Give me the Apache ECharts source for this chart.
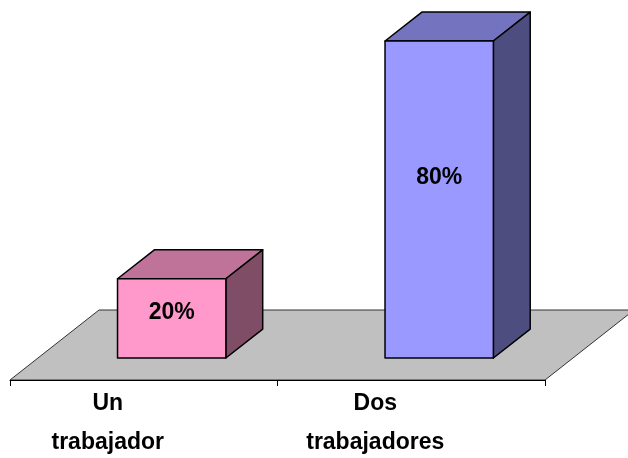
<!DOCTYPE html>
<html>
<head>
<meta charset="utf-8">
<script src="https://cdn.jsdelivr.net/npm/echarts@6/dist/echarts.min.js"></script>
<style>
html,body{margin:0;padding:0;background:#fff;}
#chart{width:628px;height:458px;}
</style>
</head>
<body>
<div id="chart"></div>
<script>
const categories = ['Un trabajador', 'Dos trabajadores'];
const values = [20, 80];
const frontColors = ['#FF99CC', '#9999FF'];
const topColors = ['#C07399', '#7373BF'];
const sideColors = ['#804D66', '#4D4D80'];

const DEPTH = [89, -70];      // floor depth projection vector (px)
const BAR_START = 0.314;      // bar front plane as fraction of floor depth
const BAR_END = 0.728;        // bar back plane
const BAR_W = 0.405;          // bar width as fraction of band

const chart = echarts.init(document.getElementById('chart'), null, {renderer: 'canvas'});

function floorItem(params, api) {
  const cs = params.coordSys;
  const x0 = cs.x, x1 = cs.x + cs.width, y = cs.y + cs.height;
  return {
    type: 'polygon',
    shape: {points: [[x0, y], [x1, y], [x1 + DEPTH[0], y + DEPTH[1]], [x0 + DEPTH[0], y + DEPTH[1]]]},
    style: {fill: '#C0C0C0', stroke: '#333', lineWidth: 1}
  };
}

function barItem(params, api) {
  const i = api.value(0);
  const v = api.value(1);
  const base = api.coord([i, 0]);
  const top = api.coord([i, v]);
  const bw = api.size([1, 0])[0] * BAR_W;
  const sx = DEPTH[0] * BAR_START, sy = DEPTH[1] * BAR_START;
  const dx = DEPTH[0] * (BAR_END - BAR_START), dy = DEPTH[1] * (BAR_END - BAR_START);
  const L = base[0] - bw / 2 + sx, R = base[0] + bw / 2 + sx;
  const B = base[1] + sy, T = top[1] + sy;
  const stroke = {stroke: '#000', lineWidth: 1.5, lineJoin: 'round'};
  const idx = params.dataIndex;
  const labelY = B + (T - B) * 0.57;
  return {
    type: 'group',
    children: [
      {type: 'polygon', shape: {points: [[L, T], [R, T], [R + dx, T + dy], [L + dx, T + dy]]},
        style: Object.assign({fill: topColors[idx]}, stroke)},
      {type: 'polygon', shape: {points: [[R, T], [R + dx, T + dy], [R + dx, B + dy], [R, B]]},
        style: Object.assign({fill: sideColors[idx]}, stroke)},
      {type: 'rect', shape: {x: L, y: T, width: R - L, height: B - T},
        style: Object.assign({fill: frontColors[idx]}, stroke)},
      {type: 'text', x: (L + R) / 2, y: labelY,
        style: {text: v + '%', fill: '#000', fontSize: 23, fontWeight: 'bold',
          fontFamily: 'Liberation Sans, Arial, sans-serif', align: 'center', verticalAlign: 'middle'}}
    ]
  };
}

chart.setOption({
  animation: false,
  backgroundColor: '#fff',
  grid: {left: 10, right: 83, top: 63, bottom: 78, containLabel: false, outerBoundsMode: 'none'},
  xAxis: {
    type: 'category',
    data: categories,
    boundaryGap: true,
    axisLine: {show: true, lineStyle: {color: '#000', width: 1}},
    axisTick: {show: true, length: 6, lineStyle: {color: '#000', width: 1}},
    splitLine: {show: false},
    axisLabel: {
      formatter: function (s) { return s.split(' ').join('\n'); },
      fontSize: 23, fontWeight: 'bold', color: '#000',
      fontFamily: 'Liberation Sans, Arial, sans-serif',
      lineHeight: 39, margin: 4, padding: [0, 72, 0, 0]
    },
    z: 5
  },
  yAxis: {type: 'value', min: 0, max: 80, show: false, splitLine: {show: false}},
  series: [
    {type: 'custom', renderItem: floorItem, data: [[0]], clip: false, z: 1, silent: true},
    {type: 'custom', renderItem: barItem, data: values.map((v, i) => [i, v]), clip: false, z: 3, silent: true}
  ]
});
</script>
</body>
</html>
